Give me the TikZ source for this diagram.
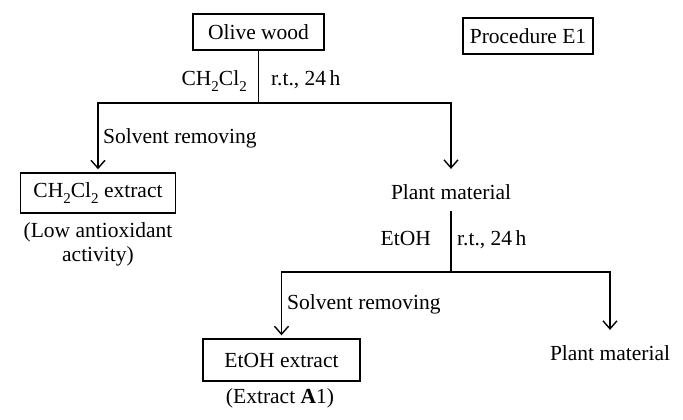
\documentclass[tikz,border=0pt]{standalone}
\usepackage{fontspec}
\setmainfont{Liberation Serif}
\usetikzlibrary{arrows.meta}
\newcommand{\lowsub}[1]{\raisebox{-0.32em}{\fontsize{15}{15}\selectfont #1}}
\begin{document}
\begin{tikzpicture}[x=1pt,y=-1pt,
  every node/.style={font=\fontsize{21.5}{24}\selectfont, inner sep=0pt},
  boxnode/.style={draw, line width=1.4pt},
  line/.style={line width=1.4pt},
  arr/.style={line, -{Straight Barb[length=8pt,width=14pt,line width=1.4pt]}}
]
\useasboundingbox (0,0) rectangle (683,420);
% boxes
\node[boxnode, minimum width=131pt, minimum height=36pt] (olive) at (258.5,32) {Olive wood};
\node[boxnode, minimum width=130pt, minimum height=36pt] (proc) at (528,36) {Procedure E1};
\node[boxnode, minimum width=155pt, minimum height=40pt] (chx) at (98,193) {CH\lowsub{2}Cl\lowsub{2} extract};
\node[boxnode, minimum width=157pt, minimum height=42pt] (etx) at (281.5,360) {EtOH extract};
% plain texts
\node[anchor=base] (pm1) at (451,199) {Plant material};
\node[anchor=base] (pm2) at (610,360) {Plant material};
\node[anchor=base, align=center] (low) at (98,261) {(Low antioxidant\\activity)};
\node[anchor=base] (exa) at (280,403) {(Extract \textbf{A}1)};
% junctions
\coordinate (j1) at (258.5,103);
\coordinate (j2) at (451,272);
% labels
\node[anchor=base east] (ch) at (247,85) {CH\lowsub{2}Cl\lowsub{2}};
\node[anchor=base west] (rt1) at (271,85) {r.t., 24\,h};
\node[anchor=base west] (sr1) at (103,143) {Solvent removing};
\node[anchor=base east] (et) at (431,245) {EtOH};
\node[anchor=base west] (rt2) at (457,245) {r.t., 24\,h};
\node[anchor=base west] (sr2) at (287,309) {Solvent removing};
% connectors
\draw[line] (olive.south) -- (j1);
\draw[arr, shorten >=3pt] (j1) -| (chx.north);
\draw[arr, shorten >=15pt] (j1) -| (pm1.north);
\draw[line, shorten <=12pt] (pm1.south) -- (j2);
\draw[arr, shorten >=3pt] (j2) -| (etx.north);
\draw[arr, shorten >=15pt] (j2) -| (pm2.north);
\end{tikzpicture}
\end{document}
